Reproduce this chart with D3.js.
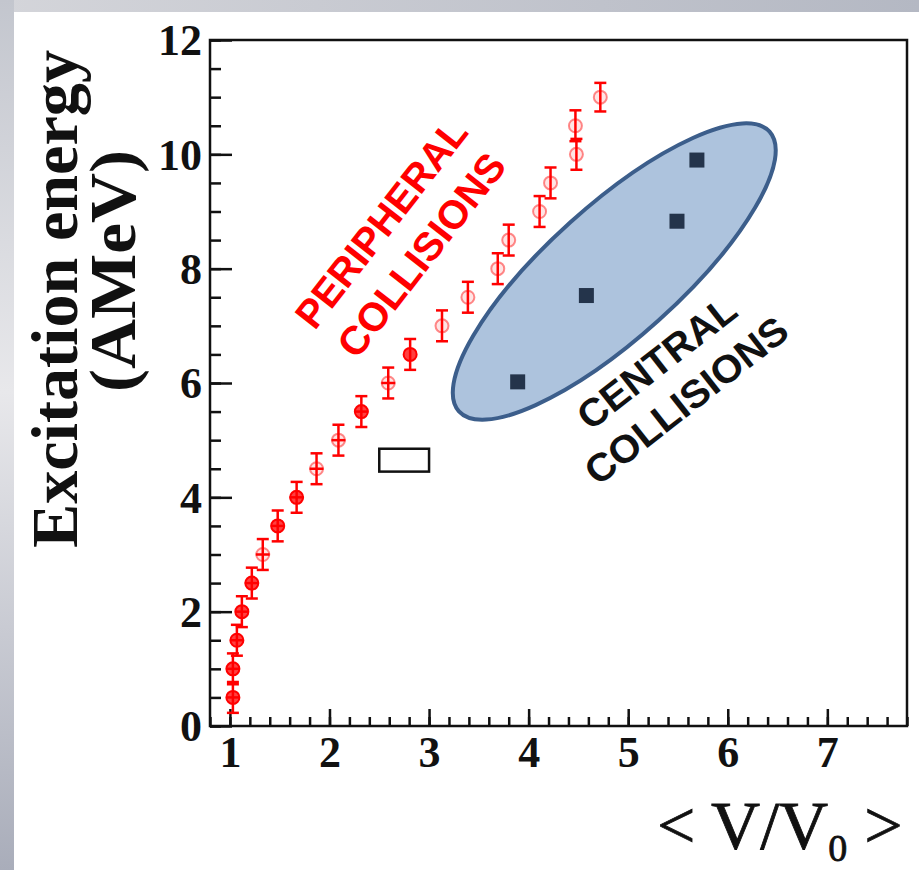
<!DOCTYPE html>
<html>
<head>
<meta charset="utf-8">
<script src="https://cdn.jsdelivr.net/npm/d3@7"></script>
<style>
body { margin: 0; background: #fff; }
svg { display: block; }
</style>
</head>
<body>
<script>
// peripheral collisions (red points with error bars)
var peripheralX = [1.03, 1.03, 1.07, 1.12, 1.22, 1.33, 1.48, 1.67, 1.87, 2.09, 2.32, 2.59, 2.81, 3.13, 3.39, 3.69, 3.80, 4.11, 4.22, 4.48, 4.47, 4.72];
var peripheralY = [0.5, 1.0, 1.5, 2.0, 2.5, 3.0, 3.5, 4.0, 4.5, 5.0, 5.5, 6.0, 6.5, 7.0, 7.5, 8.0, 8.5, 9.0, 9.5, 10.0, 10.5, 11.0];
var peripheralYErr = [0.27, 0.27, 0.27, 0.27, 0.27, 0.27, 0.27, 0.27, 0.27, 0.27, 0.27, 0.27, 0.27, 0.27, 0.27, 0.27, 0.27, 0.27, 0.27, 0.27, 0.27, 0.25];
var peripheralXErr = [0.07, 0.07, 0.07, 0.07, 0.07, 0.07, 0.07, 0.07, 0.07, 0.07, 0.07, 0.07, 0, 0, 0, 0, 0, 0, 0, 0, 0, 0];
var peripheralFilled = [1, 1, 1, 1, 1, 0, 1, 1, 0, 0, 1, 0, 1, 0, 0, 0, 0, 0, 0, 0, 0, 0];

// central collisions (dark squares)
var centralX = [3.89, 4.58, 5.49, 5.69];
var centralY = [6.02, 7.53, 8.83, 9.90];

var xTicks = [1, 2, 3, 4, 5, 6, 7];
var yTicks = [0, 2, 4, 6, 8, 10, 12];

var peripheralLines = ['PERIPHERAL', 'COLLISIONS'];
var centralLines = ['CENTRAL', 'COLLISIONS'];

var width = 919;
var height = 870;

var x = d3.scaleLinear().domain([0.8, 7.8]).range([210, 907]);
var y = d3.scaleLinear().domain([0, 12]).range([726, 40]);

var svg = d3.select('body').append('svg')
  .attr('width', width)
  .attr('height', height);

// slide background
var defs = svg.append('defs');
var gl = defs.append('linearGradient').attr('id', 'leftband')
  .attr('x1', 0).attr('y1', 0).attr('x2', 0).attr('y2', 1);
gl.append('stop').attr('offset', '0%').attr('stop-color', '#c3c6ce');
gl.append('stop').attr('offset', '45%').attr('stop-color', '#e8e8eb');
gl.append('stop').attr('offset', '100%').attr('stop-color', '#a9adba');
var gt = defs.append('linearGradient').attr('id', 'topband')
  .attr('x1', 0).attr('y1', 0).attr('x2', 1).attr('y2', 0);
gt.append('stop').attr('offset', '0%').attr('stop-color', '#d4d5da');
gt.append('stop').attr('offset', '100%').attr('stop-color', '#b4b8c3');

svg.append('rect').attr('x', 0).attr('y', 0).attr('width', width).attr('height', 12)
  .attr('fill', 'url(#topband)');
svg.append('rect').attr('x', 0).attr('y', 0).attr('width', 14).attr('height', height)
  .attr('fill', 'url(#leftband)');

// axes
var tickFont = '"Liberation Serif", "Times New Roman", serif';

var xMinor = d3.range(8, 79, 2).map(function(d) { return d / 10; });
var yMinor = d3.range(0, 121, 5).map(function(d) { return d / 10; });

svg.append('g')
  .attr('transform', 'translate(0,726)')
  .call(d3.axisBottom(x).tickValues(xMinor).tickSize(-9).tickFormat(''))
  .call(function(g) { g.select('.domain').remove(); });

svg.append('g')
  .attr('transform', 'translate(210,0)')
  .call(d3.axisLeft(y).tickValues(yMinor).tickSize(-11).tickFormat(''))
  .call(function(g) { g.select('.domain').remove(); });

var xAxis = svg.append('g')
  .attr('transform', 'translate(0,726)')
  .call(d3.axisBottom(x).tickValues(xTicks).tickSize(-17).tickPadding(10).tickFormat(d3.format('d')));
xAxis.select('.domain').remove();

var yAxis = svg.append('g')
  .attr('transform', 'translate(210,0)')
  .call(d3.axisLeft(y).tickValues(yTicks).tickSize(-22).tickPadding(8).tickFormat(d3.format('d')));
yAxis.select('.domain').remove();

svg.selectAll('.tick line').attr('stroke', '#111').attr('stroke-width', 2.5);
svg.selectAll('.tick text')
  .attr('font-family', tickFont)
  .attr('font-weight', 'bold')
  .attr('font-size', 44)
  .attr('fill', '#111');
yAxis.selectAll('.tick text').attr('dy', '0.34em');

// frame
svg.append('rect')
  .attr('x', x(0.8)).attr('y', y(12))
  .attr('width', x(7.8) - x(0.8)).attr('height', y(0) - y(12))
  .attr('fill', 'none').attr('stroke', '#111').attr('stroke-width', 2.5);

// ellipse around central points
var ell = { cx: 4.86, cy: 7.95, rx: 209, ry: 66, angle: -42 };
svg.append('ellipse')
  .attr('transform', 'translate(' + x(ell.cx) + ',' + y(ell.cy) + ') rotate(' + ell.angle + ')')
  .attr('rx', ell.rx).attr('ry', ell.ry)
  .attr('fill', '#adc3dd')
  .attr('stroke', '#3c5e8b')
  .attr('stroke-width', 4);

// small open box
svg.append('rect')
  .attr('x', x(2.5)).attr('y', y(4.85))
  .attr('width', x(3.0) - x(2.5)).attr('height', y(4.45) - y(4.85))
  .attr('fill', '#fff').attr('stroke', '#111').attr('stroke-width', 2.5);

// peripheral points
var pts = peripheralX.map(function(d, i) {
  return { x: d, y: peripheralY[i], ey: peripheralYErr[i], ex: peripheralXErr[i], filled: peripheralFilled[i] };
});

var pg = svg.append('g').attr('stroke', '#ff0000').attr('stroke-width', 2.5);
var cap = 6;

pg.selectAll('.ebar').data(pts).enter().append('line')
  .attr('x1', function(d) { return x(d.x); })
  .attr('x2', function(d) { return x(d.x); })
  .attr('y1', function(d) { return y(d.y - d.ey); })
  .attr('y2', function(d) { return y(d.y + d.ey); });

pg.selectAll('.capTop').data(pts).enter().append('line')
  .attr('x1', function(d) { return x(d.x) - cap; })
  .attr('x2', function(d) { return x(d.x) + cap; })
  .attr('y1', function(d) { return y(d.y + d.ey); })
  .attr('y2', function(d) { return y(d.y + d.ey); });

pg.selectAll('.capBot').data(pts).enter().append('line')
  .attr('x1', function(d) { return x(d.x) - cap; })
  .attr('x2', function(d) { return x(d.x) + cap; })
  .attr('y1', function(d) { return y(d.y - d.ey); })
  .attr('y2', function(d) { return y(d.y - d.ey); });

pg.selectAll('.xbar').data(pts.filter(function(d) { return d.ex > 0; })).enter().append('line')
  .attr('x1', function(d) { return x(d.x - d.ex); })
  .attr('x2', function(d) { return x(d.x + d.ex); })
  .attr('y1', function(d) { return y(d.y); })
  .attr('y2', function(d) { return y(d.y); });

pg.selectAll('circle').data(pts).enter().append('circle')
  .attr('cx', function(d) { return x(d.x); })
  .attr('cy', function(d) { return y(d.y); })
  .attr('r', 6.5)
  .attr('fill', function(d) { return d.filled ? 'rgba(255,0,0,0.75)' : 'rgba(255,0,0,0.1)'; })
  .attr('stroke', function(d) { return d.filled ? '#ff0000' : 'rgba(255,0,0,0.45)'; })
  .attr('stroke-width', 2);

// central points
svg.selectAll('.sq').data(centralX).enter().append('rect')
  .attr('x', function(d) { return x(d) - 7.5; })
  .attr('y', function(d, i) { return y(centralY[i]) - 7.5; })
  .attr('width', 15).attr('height', 15)
  .attr('fill', '#24344b');

// annotation labels
var sans = '"Liberation Sans", Arial, sans-serif';

var pLab = svg.append('g')
  .attr('transform', 'translate(' + x(2.63) + ',' + y(8.64) + ') rotate(-52)');
pLab.selectAll('text').data(peripheralLines).enter().append('text')
  .attr('x', 0)
  .attr('y', function(d, i) { return i * 51; })
  .attr('text-anchor', 'middle')
  .attr('font-family', sans)
  .attr('font-weight', 'bold')
  .attr('font-size', 40)
  .attr('textLength', function(d, i) { return i ? 246 : 252; })
  .attr('lengthAdjust', 'spacingAndGlyphs')
  .attr('fill', '#ff0000')
  .text(function(d) { return d; });

var cLab = svg.append('g')
  .attr('transform', 'translate(' + x(5.37) + ',' + y(6.17) + ') rotate(-38)');
cLab.selectAll('text').data(centralLines).enter().append('text')
  .attr('x', 0)
  .attr('y', function(d, i) { return i * 48; })
  .attr('text-anchor', 'middle')
  .attr('font-family', sans)
  .attr('font-weight', 'bold')
  .attr('font-size', 39)
  .attr('textLength', function(d, i) { return i ? 246 : 190; })
  .attr('lengthAdjust', 'spacingAndGlyphs')
  .attr('fill', '#111')
  .text(function(d) { return d; });

// axis titles
var serif = '"Liberation Serif", "Times New Roman", serif';

svg.append('text')
  .attr('transform', 'translate(77,299) rotate(-90)')
  .attr('text-anchor', 'middle')
  .attr('font-family', serif)
  .attr('font-weight', 'bold')
  .attr('font-size', 66)
  .attr('textLength', 498)
  .attr('lengthAdjust', 'spacingAndGlyphs')
  .attr('fill', '#111')
  .text('Excitation energy');

svg.append('text')
  .attr('transform', 'translate(135,271) rotate(-90)')
  .attr('text-anchor', 'middle')
  .attr('font-family', serif)
  .attr('font-weight', 'bold')
  .attr('font-size', 66)
  .attr('textLength', 242)
  .attr('lengthAdjust', 'spacingAndGlyphs')
  .attr('fill', '#111')
  .text('(AMeV)');

var xt = svg.append('text')
  .attr('x', 657)
  .attr('y', 848)
  .attr('font-family', serif)
  .attr('font-size', 68)
  .attr('fill', '#111')
  .attr('stroke', '#111')
  .attr('stroke-width', 0.8);
xt.append('tspan').text('< V/V');
xt.append('tspan').attr('font-size', 38).attr('dy', 13).text('0');
xt.append('tspan').attr('dy', -13).text(' >');
</script>
</body>
</html>
